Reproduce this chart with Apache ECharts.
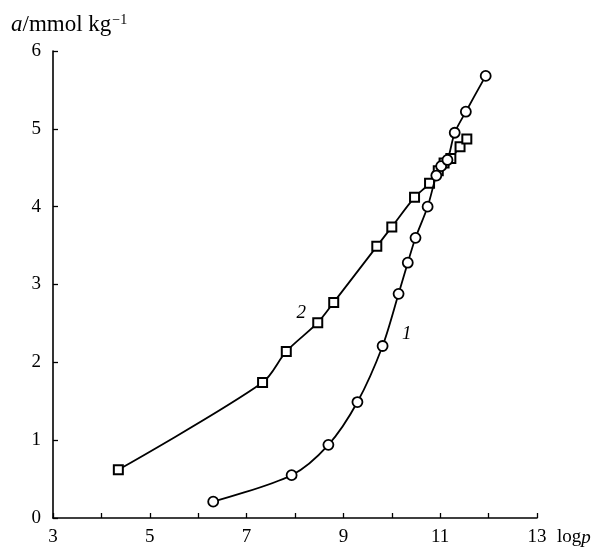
<!DOCTYPE html>
<html>
<head>
<meta charset="utf-8">
<script src="https://cdn.jsdelivr.net/npm/echarts@6/dist/echarts.min.js"></script>
<style>html,body{margin:0;padding:0;background:#fff;}#c{width:599px;height:547px;}</style>
</head>
<body>
<div id="c"></div>
<script>
// Curve 1 (circles)
const curve1X = [6.31, 7.93, 8.69, 9.29, 9.81, 10.14, 10.33, 10.49, 10.74, 10.92, 11.02, 11.15, 11.30, 11.53, 11.94];
const curve1Y = [0.21, 0.55, 0.94, 1.49, 2.21, 2.88, 3.28, 3.60, 4.00, 4.40, 4.52, 4.60, 4.95, 5.22, 5.68];
// Curve 2 (squares)
const curve2X = [4.35, 7.33, 7.82, 8.47, 8.80, 9.69, 10.00, 10.47, 10.78, 10.96, 11.08, 11.22, 11.41, 11.55];
const curve2Y = [0.62, 1.74, 2.14, 2.51, 2.77, 3.49, 3.74, 4.12, 4.30, 4.46, 4.56, 4.62, 4.77, 4.87];
const xTicks = [3, 5, 7, 9, 11, 13];
const yTicks = [0, 1, 2, 3, 4, 5, 6];
const curveLabels = [{name: '1', x: 10.31, y: 2.36}, {name: '2', x: 8.13, y: 2.64}];

const pair = (xs, ys) => xs.map((x, i) => [x, ys[i]]);
const font = 'Liberation Serif';
const chart = echarts.init(document.getElementById('c'));
chart.setOption({
  animation: false,
  backgroundColor: '#fff',
  grid: {left: 53, right: 62, top: 51, bottom: 28},
  xAxis: {
    type: 'value', min: 3, max: 13, interval: 1,
    axisLine: {lineStyle: {color: '#000', width: 1.6}},
    axisTick: {inside: true, length: 5, lineStyle: {color: '#000', width: 1.3}},
    axisLabel: {margin: 10, color: '#000', fontFamily: font, fontSize: 19,
      formatter: v => xTicks.indexOf(v) >= 0 ? String(v) : ''},
    splitLine: {show: false}
  },
  yAxis: {
    type: 'value', min: 0, max: 6, interval: 1,
    axisLine: {show: true, lineStyle: {color: '#000', width: 1.6}},
    axisTick: {show: true, inside: true, length: 5, lineStyle: {color: '#000', width: 1.3}},
    axisLabel: {margin: 12, color: '#000', fontFamily: font, fontSize: 19,
      formatter: v => yTicks.indexOf(v) >= 0 ? String(v) : ''},
    splitLine: {show: false}
  },
  graphic: [
    {type: 'text', left: 11, top: 13, style: {
      text: '{i|a}{n|/mmol kg}{s|−1}', fill: '#000',
      rich: {
        i: {fontFamily: font, fontStyle: 'italic', fontSize: 23, fill: '#000'},
        n: {fontFamily: font, fontSize: 23, fill: '#000'},
        s: {fontFamily: font, fontSize: 14, fill: '#000', verticalAlign: 'top', padding: [0, 0, 10, 1]}
      }}},
    {type: 'text', left: 557, top: 528, style: {
      text: '{n|log}{i|p}', fill: '#000',
      rich: {
        n: {fontFamily: font, fontSize: 19, fill: '#000'},
        i: {fontFamily: font, fontStyle: 'italic', fontSize: 19, fill: '#000'}
      }}}
  ],
  series: [
    {
      type: 'line', data: pair(curve1X, curve1Y), smooth: 0.3,
      symbol: 'circle', symbolSize: 10,
      itemStyle: {color: '#fff', borderColor: '#000', borderWidth: 1.8},
      lineStyle: {color: '#000', width: 1.8},
      markPoint: {
        symbol: 'circle', symbolSize: 0,
        label: {show: true, formatter: p => p.name, color: '#000', fontFamily: font, fontStyle: 'italic', fontSize: 19},
        data: [{name: curveLabels[0].name, coord: [curveLabels[0].x, curveLabels[0].y]}]
      },
      z: 3
    },
    {
      type: 'line', data: pair(curve2X, curve2Y), smooth: 0.3,
      symbol: 'rect', symbolSize: 9,
      itemStyle: {color: '#fff', borderColor: '#000', borderWidth: 2},
      lineStyle: {color: '#000', width: 1.8},
      markPoint: {
        symbol: 'circle', symbolSize: 0,
        label: {show: true, formatter: p => p.name, color: '#000', fontFamily: font, fontStyle: 'italic', fontSize: 19},
        data: [{name: curveLabels[1].name, coord: [curveLabels[1].x, curveLabels[1].y]}]
      },
      z: 2
    }
  ]
});
</script>
</body>
</html>
